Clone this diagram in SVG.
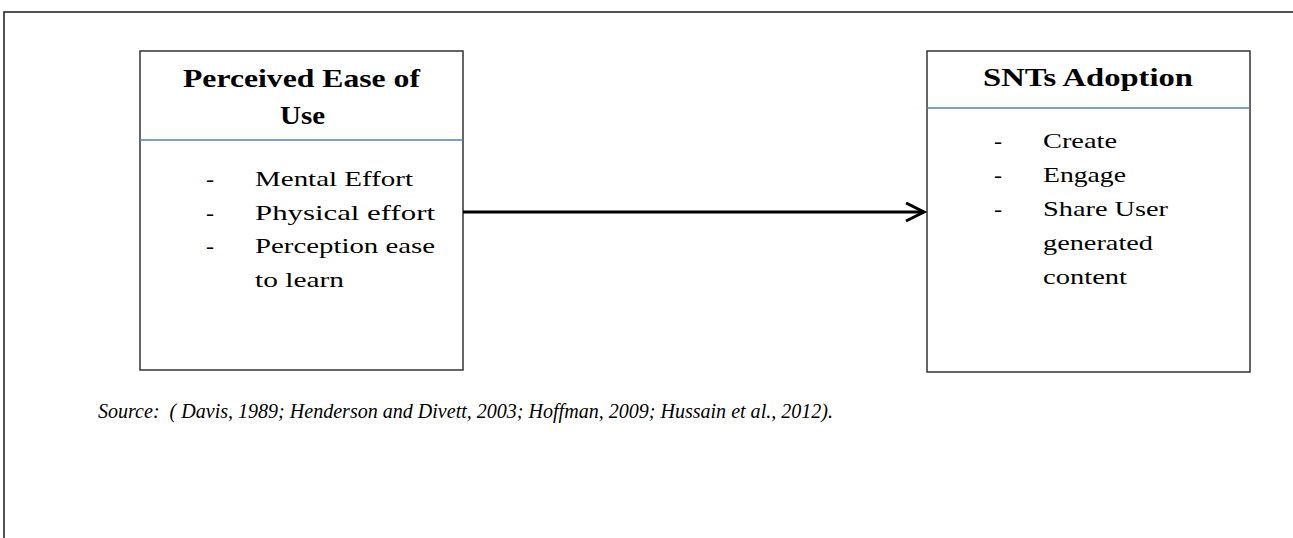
<svg xmlns="http://www.w3.org/2000/svg" width="1293" height="538" viewBox="0 0 1293 538">
<style>
.frame{fill:none;stroke:#1a1a1a;stroke-width:1.5}
.box{fill:#ffffff;stroke:#333333;stroke-width:1.5}
.sep{stroke:#4f81bd;stroke-width:1.5}
.hd{font-family:"Liberation Serif","Times New Roman",serif;font-weight:bold;font-size:25px;fill:#000}
.tx{font-family:"Liberation Serif","Times New Roman",serif;font-size:22px;fill:#000}
.src{font-family:"Liberation Serif","Times New Roman",serif;font-style:italic;font-size:20px;fill:#000}
.conn{stroke:#000;stroke-width:3;fill:none}
</style>
<defs>
<marker id="arrow" markerWidth="8" markerHeight="8" refX="6.5" refY="3.5" orient="auto" markerUnits="strokeWidth">
<path d="M0.5,0.5 L6.5,3.5 L0.5,6.5" fill="none" stroke="#000" stroke-width="1"/>
</marker>
</defs>
<rect width="1293" height="538" fill="#ffffff"/>
<path class="frame" d="M4,538 L4,12 L1293,12"/>
<g id="node-peou">
<rect class="box" x="140" y="51" width="323" height="319"/>
<line class="sep" x1="140" y1="140" x2="463" y2="140"/>
<text class="hd" x="183" y="87" textLength="237" lengthAdjust="spacingAndGlyphs">Perceived Ease of</text>
<text class="hd" x="280" y="124" textLength="45" lengthAdjust="spacingAndGlyphs">Use</text>
<text class="tx" x="206" y="186" textLength="8" lengthAdjust="spacingAndGlyphs">-</text>
<text class="tx" x="255" y="186" textLength="158" lengthAdjust="spacingAndGlyphs">Mental Effort</text>
<text class="tx" x="206" y="219.5" textLength="8" lengthAdjust="spacingAndGlyphs">-</text>
<text class="tx" x="255" y="219.5" textLength="180" lengthAdjust="spacingAndGlyphs">Physical effort</text>
<text class="tx" x="206" y="253" textLength="8" lengthAdjust="spacingAndGlyphs">-</text>
<text class="tx" x="255" y="253" textLength="180" lengthAdjust="spacingAndGlyphs">Perception ease</text>
<text class="tx" x="255" y="286.5" textLength="89" lengthAdjust="spacingAndGlyphs">to learn</text>
</g>
<g id="node-snts">
<rect class="box" x="927" y="51" width="323" height="321"/>
<line class="sep" x1="927" y1="108" x2="1250" y2="108"/>
<text class="hd" x="983" y="86" textLength="210" lengthAdjust="spacingAndGlyphs">SNTs Adoption</text>
<text class="tx" x="994" y="148" textLength="8" lengthAdjust="spacingAndGlyphs">-</text>
<text class="tx" x="1043" y="148" textLength="74" lengthAdjust="spacingAndGlyphs">Create</text>
<text class="tx" x="994" y="182" textLength="8" lengthAdjust="spacingAndGlyphs">-</text>
<text class="tx" x="1043" y="182" textLength="83" lengthAdjust="spacingAndGlyphs">Engage</text>
<text class="tx" x="994" y="216" textLength="8" lengthAdjust="spacingAndGlyphs">-</text>
<text class="tx" x="1043" y="216" textLength="125" lengthAdjust="spacingAndGlyphs">Share User</text>
<text class="tx" x="1043" y="250" textLength="110" lengthAdjust="spacingAndGlyphs">generated</text>
<text class="tx" x="1043" y="284" textLength="84" lengthAdjust="spacingAndGlyphs">content</text>
</g>
<g id="connectors">
<line class="conn" x1="463" y1="212" x2="924" y2="212" marker-end="url(#arrow)"/>
</g>
<text class="src" x="98" y="418" textLength="735" lengthAdjust="spacingAndGlyphs" xml:space="preserve">Source:  ( Davis, 1989; Henderson and Divett, 2003; Hoffman, 2009; Hussain et al., 2012).</text>
</svg>
